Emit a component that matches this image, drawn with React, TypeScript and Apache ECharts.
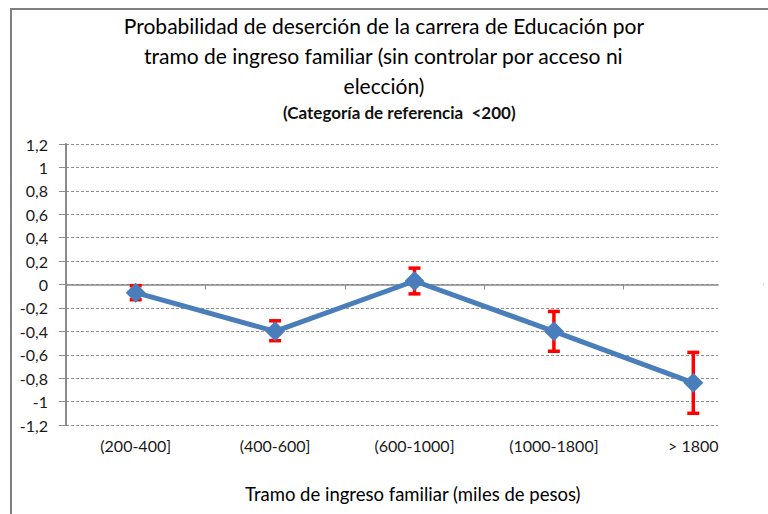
import React, { useEffect, useRef } from "react";
import * as echarts from "echarts";

const categories = ["(200-400]", "(400-600]", "(600-1000]", "(1000-1800]", "> 1800"];
const values = [-0.07, -0.4, 0.03, -0.4, -0.84];
const errLow = [-0.13, -0.48, -0.08, -0.57, -1.1];
const errHigh = [-0.01, -0.31, 0.14, -0.23, -0.58];
const titleLines = [
  "Probabilidad de deserción de la carrera de Educación por",
  "tramo de ingreso familiar (sin controlar por acceso ni",
  "elección)",
];
const subtitle = "(Categoría de referencia  <200)";
const xAxisTitle = "Tramo de ingreso familiar (miles de pesos)";
const yMin = -1.2;
const yMax = 1.2;
const yStep = 0.2;

const FONT = "Lato, 'Open Sans', sans-serif";

export default function App() {
  const ref = useRef<HTMLDivElement>(null);
  useEffect(() => {
    if (!ref.current) return;
    const chart = echarts.init(ref.current, null, { renderer: "svg" });
    const fmt = (v: number) => {
      const n = Number(v.toFixed(1));
      return (n === 0 ? "0" : String(n)).replace(".", ",");
    };
    const errData = categories.map((_, i) => [i, errLow[i], errHigh[i]]);
    chart.setOption({
      animation: false,
      backgroundColor: "#ffffff",
      textStyle: { fontFamily: FONT },
      grid: [
        { left: 66, top: 144, width: 652, height: 281, containLabel: false },
        { left: 66, top: 144, width: 697, height: 281, containLabel: false },
      ],
      xAxis: [
        {
          type: "value",
          gridIndex: 0,
          min: 0,
          max: 1,
          axisLine: { show: true, onZero: true, lineStyle: { color: "#8a8a8a", width: 1.5 } },
          axisTick: { show: false },
          axisLabel: { show: false },
          splitLine: { show: false },
        },
        {
          type: "category",
          gridIndex: 1,
          data: categories,
          position: "bottom",
          axisLine: { show: false, onZero: false },
          axisTick: { show: false },
          axisLabel: { color: "#1a1a1a", fontSize: 16, margin: 12, fontFamily: FONT },
          splitLine: { show: false },
        },
        {
          type: "category",
          gridIndex: 1,
          data: categories,
          position: "bottom",
          axisLine: { show: false, onZero: true },
          axisTick: { show: true, length: 5, lineStyle: { color: "#8a8a8a", width: 1 } },
          axisLabel: { show: false },
          splitLine: { show: false },
        },
      ],
      yAxis: [
        {
          type: "value",
          gridIndex: 0,
          min: yMin,
          max: yMax,
          interval: yStep,
          axisLine: { show: true, lineStyle: { color: "#8a8a8a", width: 2 } },
          axisTick: { show: true, length: 7, lineStyle: { color: "#8a8a8a" } },
          axisLabel: { color: "#1a1a1a", fontSize: 16, margin: 18, formatter: fmt, fontFamily: FONT },
          splitLine: { show: true, lineStyle: { color: "#8f8f8f", type: [3, 2], width: 1.2 } },
        },
        {
          type: "value",
          gridIndex: 1,
          min: yMin,
          max: yMax,
          interval: yStep,
          show: false,
          splitLine: { show: false },
        },
      ],
      graphic: [
        {
          type: "polyline",
          shape: { points: [[11, 514], [11, 9], [768, 9]] },
          style: { stroke: "#808080", lineWidth: 2, fill: null },
          silent: true,
        },
        {
          type: "rect",
          shape: { x: 758, y: 285, width: 10, height: 9 },
          style: { fill: "#ffffff" },
          z: 100,
          silent: true,
        },
        ...titleLines.map((t, i) => ({
          type: "text",
          left: "center",
          top: 15 + i * 30,
          style: { text: t, fontSize: 21, fill: "#000", fontFamily: FONT },
        })),
        {
          type: "text",
          left: 283,
          top: 104,
          style: { text: subtitle, fontSize: 17, fontWeight: "bold", fill: "#111", fontFamily: FONT },
        },
        {
          type: "text",
          left: 245,
          top: 484,
          style: { text: xAxisTitle, fontSize: 18.5, fill: "#000", fontFamily: FONT },
        },
      ],
      series: [
        {
          type: "custom",
          xAxisIndex: 1,
          yAxisIndex: 1,
          z: 1,
          data: errData,
          renderItem: (params: any, api: any) => {
            const x = api.value(0);
            const lo = api.coord([x, api.value(1)]);
            const hi = api.coord([x, api.value(2)]);
            const w = 6;
            const style = { stroke: "#ff0000", lineWidth: 3.5 };
            return {
              type: "group",
              children: [
                { type: "line", shape: { x1: lo[0], y1: lo[1], x2: hi[0], y2: hi[1] }, style },
                { type: "line", shape: { x1: lo[0] - w, y1: lo[1], x2: lo[0] + w, y2: lo[1] }, style },
                { type: "line", shape: { x1: hi[0] - w, y1: hi[1], x2: hi[0] + w, y2: hi[1] }, style },
              ],
            };
          },
        },
        {
          type: "line",
          xAxisIndex: 1,
          yAxisIndex: 1,
          z: 3,
          data: values,
          symbol: "diamond",
          symbolSize: 20,
          itemStyle: { color: "#4a7ebb" },
          lineStyle: { color: "#4a7ebb", width: 5 },
        },
      ],
    });
    return () => chart.dispose();
  }, []);
  return (
    <div
      ref={ref}
      style={{ position: "fixed", left: 0, top: 0, width: 768, height: 514, background: "#fff" }}
    />
  );
}
